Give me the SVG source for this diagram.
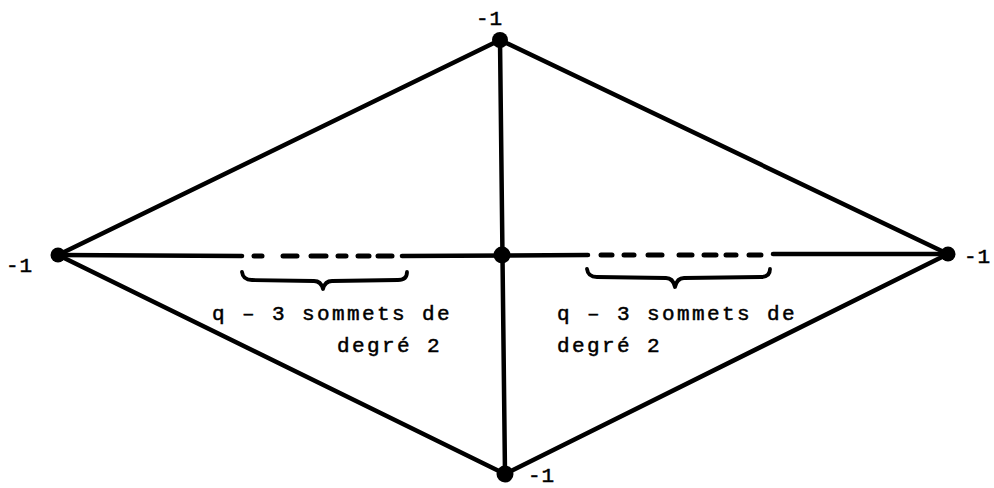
<svg xmlns="http://www.w3.org/2000/svg" width="994" height="488" viewBox="0 0 994 488">
<style>
.e{stroke:#000;stroke-width:4.5;fill:none;stroke-linecap:round}
.d{stroke:#000;stroke-width:5;fill:none;stroke-linecap:round}
.b{stroke:#000;stroke-width:3.8;fill:none;stroke-linecap:round;stroke-linejoin:round}
.n{fill:#000}
.t{font-family:"Liberation Mono","DejaVu Sans Mono",monospace;font-size:21px;fill:#000;stroke:#000;stroke-width:0.5;letter-spacing:2.4px}
.l{font-family:"Liberation Mono","DejaVu Sans Mono",monospace;font-size:21px;fill:#000;stroke:#000;stroke-width:0.5;letter-spacing:1px}
</style>
<rect width="994" height="488" fill="#fff"/>
<g id="connectors">
<line class="e" x1="500" y1="40" x2="58" y2="255"/>
<line class="e" x1="500" y1="40" x2="948" y2="254"/>
<line class="e" x1="505" y1="474" x2="58" y2="255"/>
<line class="e" x1="505" y1="474" x2="948" y2="254"/>
<line class="e" x1="500" y1="40" x2="505" y2="474"/>
<line class="e" x1="58" y1="255" x2="242" y2="256"/>
<line class="e" x1="402" y1="256" x2="588" y2="255"/>
<line class="e" x1="773" y1="254" x2="948" y2="254"/>
<g class="d">
<line x1="254" y1="256" x2="262" y2="256"/>
<line x1="283" y1="256" x2="297" y2="256"/>
<line x1="311" y1="256" x2="326" y2="256"/>
<line x1="338" y1="256" x2="346" y2="256"/>
<line x1="358" y1="256" x2="369" y2="256"/>
<line x1="378" y1="256" x2="392" y2="256"/>
<line x1="601" y1="255" x2="612" y2="255"/>
<line x1="624" y1="255" x2="634" y2="255"/>
<line x1="648" y1="255" x2="662" y2="255"/>
<line x1="679" y1="255" x2="692" y2="255"/>
<line x1="704" y1="255" x2="716" y2="255"/>
<line x1="726" y1="255" x2="736" y2="255"/>
<line x1="749" y1="255" x2="761" y2="255"/>
</g>
</g>
<g id="brace-left"><path class="b" d="M242,272 Q243,280 252,280 L314,281 Q321,281 323,289 Q325,281 332,281 L398,280 Q407,280 407,272"/></g>
<g id="brace-right"><path class="b" d="M587,269 Q588,277 597,277 L666,278 Q673,278 675,287 Q677,278 684,278 L761,277 Q770,277 770,269"/></g>
<g id="node-top"><circle class="n" cx="500" cy="40" r="8"/><text class="l" x="476" y="25">-1</text></g>
<g id="node-left"><circle class="n" cx="58" cy="255" r="7.5"/><text class="l" x="6" y="272">-1</text></g>
<g id="node-center"><circle class="n" cx="502" cy="255" r="8.5"/></g>
<g id="node-right"><circle class="n" cx="948" cy="254" r="7.5"/><text class="l" x="964" y="263">-1</text></g>
<g id="node-bottom"><circle class="n" cx="505" cy="474" r="8.5"/><text class="l" x="528" y="482">-1</text></g>
<g id="label-left">
<text class="t" x="212" y="320">q – 3 sommets de</text>
<text class="t" x="337" y="352">degré 2</text>
</g>
<g id="label-right">
<text class="t" x="557" y="320">q – 3 sommets de</text>
<text class="t" x="557" y="352">degré 2</text>
</g>
</svg>
